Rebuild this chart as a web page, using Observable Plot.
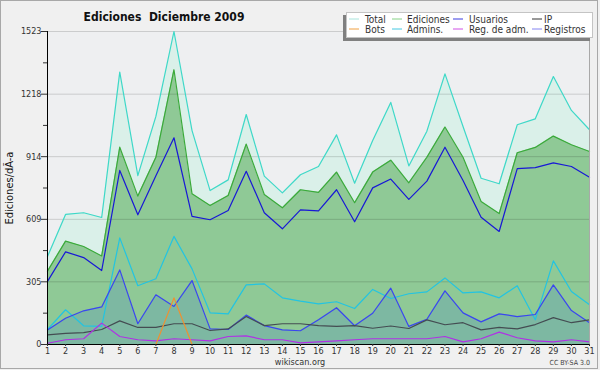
<!DOCTYPE html>
<html><head><meta charset="utf-8">
<script src="https://cdn.jsdelivr.net/npm/d3@7"></script>
<script src="https://cdn.jsdelivr.net/npm/@observablehq/plot@0.6"></script>
<style>body{margin:0;background:#fff} svg{display:block}</style>
</head><body><div id="chart"></div>
<script>
const titleText = "Ediciones  Diciembre 2009";
const yLabel = "Ediciones/dÃ-a";
const days = [1,2,3,4,5,6,7,8,9,10,11,12,13,14,15,16,17,18,19,20,21,22,23,24,25,26,27,28,29,30,31];
const total = [428,633,641,618,1325,822,1110,1523,1041,749,801,1119,819,738,826,866,1020,785,993,1178,869,1038,1317,1061,809,782,1069,1098,1304,1139,1045];
const ediciones = [357,503,477,431,960,722,911,1337,733,676,725,975,730,665,753,740,839,690,839,897,787,911,1058,911,696,637,933,959,1014,972,939];
const usuarios = [307,451,423,360,847,631,821,1006,623,607,652,843,641,563,655,650,753,597,762,805,706,795,960,798,619,550,856,861,884,866,814];
const ip = [47,54,58,73,115,83,83,101,101,68,76,136,92,101,101,92,88,92,79,90,78,120,96,106,71,83,76,97,131,106,120];
const bots = [0,0,0,0,0,0,0,227,0,0,0,0,0,0,0,0,0,0,0,0,0,0,0,0,0,0,0,0,0,0,0];
const admins = [73,169,91,88,519,286,320,526,368,154,149,290,295,227,211,198,208,175,268,224,247,256,324,251,256,227,286,120,407,258,193];
const regAdm = [6,23,28,104,39,23,18,28,23,18,39,42,23,23,8,13,18,23,28,28,28,28,39,13,28,60,33,18,13,23,13];
const registros = [71,128,164,183,363,101,242,185,311,76,73,143,92,71,67,120,179,91,152,274,88,123,261,154,110,149,136,146,290,165,106];
const yTicks = [0,305,609,914,1218,1523];
const seriesNames = ["Total","Ediciones","Usuarios","IP","Bots","Admins.","Reg. de adm.","Registros"];
const lineColors = ["#3ed8c8","#3aaa3a","#1818d6","#444c52","#f09030","#22c4e2","#b030e6","#3a46f0"];
const legendColors = ["#a8e4dc","#86d286","#3a3ae0","#333333","#f0a040","#44c8e2","#d050e6","#8484f2"];
const footerText = "wikiscan.org";
const licenseText = "CC BY-SA 3.0";

const seriesValues = [total, ediciones, usuarios, ip, bots, admins, regAdm, registros];
const rows = days.map((d, i) => ({day: d, total: total[i], ediciones: ediciones[i], registros: registros[i]}));
const long = [];
seriesNames.forEach((name, s) => days.forEach((d, i) => long.push({series: name, day: d, value: seriesValues[s][i]})));
const minorTicks = d3.pairs(yTicks).map(([a, b]) => (a + b) / 2);
const lineOrder = ["Total","Ediciones","Usuarios","Admins.","Registros","IP","Reg. de adm.","Bots"];
const FONT = "'DejaVu Sans Condensed','DejaVu Sans',sans-serif";

const chart = Plot.plot({
  width: 600, height: 370,
  marginLeft: 47, marginRight: 11, marginTop: 31, marginBottom: 26,
  style: {background: "#f0f0f0", fontFamily: FONT, fontStretch: "condensed", color: "#333"},
  x: {domain: [1, 31]},
  y: {domain: [0, 1523]},
  marks: [
    Plot.frame({fill: "#eeeff1", stroke: null}),
    Plot.areaY(rows, {x: "day", y: "total", fill: "#daf0e9"}),
    Plot.areaY(rows, {x: "day", y: "ediciones", fill: "#8fc996"}),
    Plot.areaY(rows, {x: "day", y: "registros", fill: "#7db8a2"}),
    Plot.ruleY(yTicks.slice(1), {stroke: "#000", strokeOpacity: 0.15}),
    ...lineOrder.map(name => Plot.line(long.filter(r => r.series === name), {x: "day", y: "value", stroke: lineColors[seriesNames.indexOf(name)], strokeWidth: 1.2})),
    Plot.ruleX([31], {stroke: "#a8a8a8"}),
    Plot.ruleX([1], {stroke: "#000"}),
    Plot.ruleY([0], {stroke: "#000"}),
    Plot.axisY({ticks: yTicks, tickSize: 6, tickPadding: 0, fontSize: 9, label: null, tickFormat: d => String(d)}),
    Plot.axisY({ticks: minorTicks, tickSize: 4, label: null, tickFormat: () => ""}),
    Plot.axisX({ticks: days, tickSize: 2, tickPadding: 1, fontSize: 9, label: null, tickFormat: d => String(d)})
  ]
});

const svg = d3.select(chart);
svg.append("text").attr("x", 164).attr("y", 21).attr("text-anchor", "middle")
  .attr("font-family", FONT).attr("font-stretch", "condensed").attr("font-weight", "bold").attr("font-size", 12).attr("fill", "#111").text(titleText);
svg.append("text").attr("transform", "translate(13,188) rotate(-90)").attr("text-anchor", "middle")
  .attr("font-family", "'DejaVu Sans',sans-serif").attr("font-size", 11).attr("fill", "#111").text(yLabel);
svg.append("text").attr("x", 300).attr("y", 365).attr("text-anchor", "middle")
  .attr("font-family", FONT).attr("font-stretch", "condensed").attr("font-size", 9).attr("fill", "#333").text(footerText);
svg.append("text").attr("x", 590).attr("y", 365).attr("text-anchor", "end")
  .attr("font-family", FONT).attr("font-stretch", "condensed").attr("font-size", 7).attr("fill", "#444").text(licenseText);
// legend
const lg = svg.append("g").attr("text-anchor", "start");
lg.append("rect").attr("x", 343).attr("y", 15).attr("width", 247).attr("height", 26).attr("fill", "#808080");
lg.append("rect").attr("x", 346.5).attr("y", 12.5).attr("width", 246).attr("height", 25).attr("fill", "#fff").attr("stroke", "#c4c4c4");
const colX = [349, 392, 453, 532];
const textOff = [16, 15, 16, 12];
seriesNames.forEach((name, i) => {
  const c = i % 4, r = Math.floor(i / 4);
  const yy = 19 + r * 10;
  lg.append("line").attr("x1", colX[c]).attr("x2", colX[c] + 10).attr("y1", yy).attr("y2", yy).attr("stroke", legendColors[i]).attr("stroke-width", 1);
  lg.append("text").attr("x", colX[c] + textOff[c]).attr("y", yy + 3.5).attr("text-anchor", "start").attr("font-family", FONT).attr("font-stretch", "condensed")
    .attr("font-size", 10).attr("fill", "#333").text(name);
});
// outer border
svg.append("rect").attr("x", 0.5).attr("y", 0.5).attr("width", 597).attr("height", 368).attr("fill", "none").attr("stroke", "#a8a8a8");
document.getElementById("chart").appendChild(chart);
</script>
</body></html>
